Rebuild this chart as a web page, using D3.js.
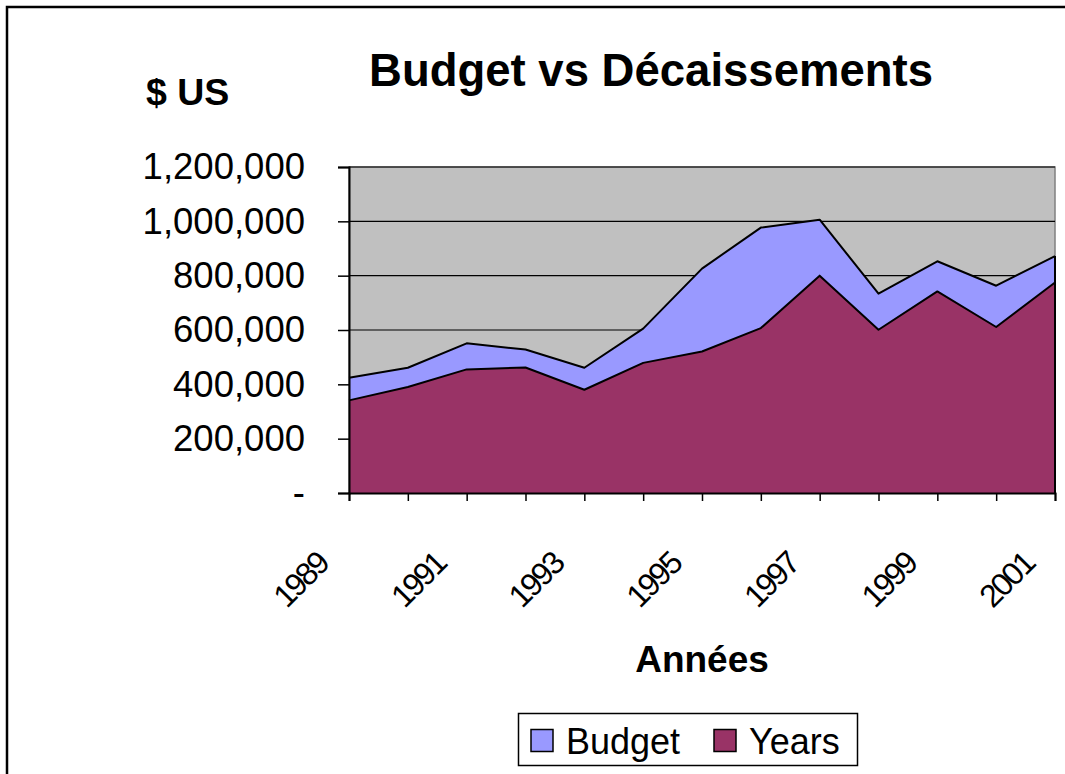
<!DOCTYPE html>
<html>
<head>
<meta charset="utf-8">
<script src="https://cdn.jsdelivr.net/npm/d3@7"></script>
<style>
  body { margin: 0; background: #fff; }
  svg { display: block; font-family: Arial, "Liberation Sans", sans-serif; }
</style>
</head>
<body>
<div id="chart"></div>
<script>
const years = [1989, 1990, 1991, 1992, 1993, 1994, 1995, 1996, 1997, 1998, 1999, 2000, 2001];
const budget = [424000, 461000, 551000, 528000, 461000, 605000, 826000, 977000, 1006000, 734000, 853000, 763000, 872000];
const disbursed = [341000, 390000, 455000, 462000, 380000, 479000, 521000, 607000, 800000, 601000, 742000, 611000, 775000];
const yTicks = [0, 200000, 400000, 600000, 800000, 1000000, 1200000];
const seriesNames = ["Budget", "Years"];
const seriesColors = ["#9999FF", "#993366"];

const width = 1065;
const height = 774;
const plot = {left: 349, right: 1055, top: 167, bottom: 493};

const svg = d3.select("#chart")
              .append("svg")
              .attr("width", width)
              .attr("height", height);

// outer frame (only top and left visible)
svg.append("rect")
   .attr("x", 7).attr("y", 7)
   .attr("width", 1200).attr("height", 900)
   .attr("fill", "none")
   .attr("stroke", "#000")
   .attr("stroke-width", 2.5);

const x = d3.scalePoint().domain(years).range([plot.left, plot.right]);
const y = d3.scaleLinear().domain([0, 1200000]).range([plot.bottom, plot.top]);

// plot background
svg.append("rect")
   .attr("x", plot.left).attr("y", plot.top)
   .attr("width", plot.right - plot.left)
   .attr("height", plot.bottom - plot.top)
   .attr("fill", "#C0C0C0")
   .attr("stroke", "#808080")
   .attr("stroke-width", 1.5);

// gridlines
svg.append("g")
   .selectAll("line")
   .data(yTicks.slice(1))
   .enter()
   .append("line")
   .attr("x1", plot.left).attr("x2", plot.right)
   .attr("y1", d => y(d)).attr("y2", d => y(d))
   .attr("stroke", "#000")
   .attr("stroke-width", 1.2);

// areas
const seriesData = [budget, disbursed];
seriesData.forEach((values, i) => {
    const area = d3.area()
                   .x((d, j) => x(years[j]))
                   .y0(y(0))
                   .y1(d => y(d));
    const line = d3.line()
                   .x((d, j) => x(years[j]))
                   .y(d => y(d));
    svg.append("path")
       .attr("d", area(values))
       .attr("fill", seriesColors[i]);
    svg.append("path")
       .attr("d", line(values))
       .attr("fill", "none")
       .attr("stroke", "#000")
       .attr("stroke-width", 2)
       .attr("stroke-linejoin", "round");
});

// right edge of the areas
svg.append("line")
   .attr("x1", plot.right).attr("x2", plot.right)
   .attr("y1", y(budget[budget.length - 1])).attr("y2", plot.bottom)
   .attr("stroke", "#000").attr("stroke-width", 2);

// y axis
const yAxis = d3.axisLeft(y)
                .tickValues(yTicks)
                .tickSize(11)
                .tickPadding(33)
                .tickFormat(d => d === 0 ? "-" : d3.format(",")(d));
const gy = svg.append("g")
              .attr("transform", `translate(${plot.left},0)`)
              .call(yAxis);
gy.select(".domain").attr("stroke", "#000").attr("stroke-width", 2);
gy.selectAll(".tick line").attr("stroke", "#000").attr("stroke-width", 1.5);
gy.selectAll(".tick text")
  .attr("font-size", 36.5)
  .attr("font-family", "Arial, 'Liberation Sans', sans-serif")
  .attr("fill", "#000");

// x axis
const xAxis = d3.axisBottom(x).tickSize(8).tickFormat("");
const gx = svg.append("g")
              .attr("transform", `translate(0,${plot.bottom})`)
              .call(xAxis);
gx.select(".domain").attr("stroke", "#000").attr("stroke-width", 2);
gx.selectAll(".tick line").attr("stroke", "#000").attr("stroke-width", 1.5);

svg.append("g")
   .selectAll("text")
   .data(years.filter((d, i) => i % 2 === 0))
   .enter()
   .append("text")
   .attr("transform", d => `translate(${x(d) - 19},566) rotate(-45)`)
   .attr("text-anchor", "end")
   .attr("font-size", 32)
   .attr("letter-spacing", -2.5)
   .text(d => d);

// titles
svg.append("text")
   .attr("x", 651).attr("y", 86)
   .attr("text-anchor", "middle")
   .attr("font-size", 45.5)
   .attr("font-weight", "bold")
   .text("Budget vs Décaissements");

svg.append("text")
   .attr("x", 146).attr("y", 105)
   .attr("font-size", 37.5)
   .attr("font-weight", "bold")
   .text("$ US");

svg.append("text")
   .attr("x", (plot.left + plot.right) / 2).attr("y", 672)
   .attr("text-anchor", "middle")
   .attr("font-size", 37)
   .attr("font-weight", "bold")
   .text("Années");

// legend
const legend = svg.append("g");
legend.append("rect")
      .attr("x", 518.5).attr("y", 713.5)
      .attr("width", 339).attr("height", 52)
      .attr("fill", "#fff")
      .attr("stroke", "#000")
      .attr("stroke-width", 1.5);

const legendX = [531, 714];
seriesNames.forEach((name, i) => {
    legend.append("rect")
          .attr("x", legendX[i]).attr("y", 729.5)
          .attr("width", 22).attr("height", 22)
          .attr("fill", seriesColors[i])
          .attr("stroke", "#000")
          .attr("stroke-width", 1.5);
    legend.append("text")
          .attr("x", legendX[i] + 35).attr("y", 754)
          .attr("font-size", 36)
          .text(name);
});
</script>
</body>
</html>
